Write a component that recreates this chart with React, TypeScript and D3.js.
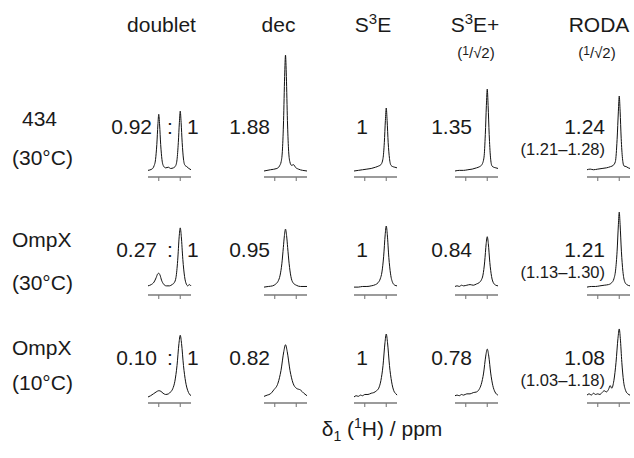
import React from 'react';
import * as d3 from 'd3';

// ---------- data ----------
const columnTitles = ['doublet', 'dec', 'S3E', 'S3E+', 'RODA'];
const rowNames = ['434', 'OmpX', 'OmpX'];
const rowTemps = ['(30°C)', '(30°C)', '(10°C)'];
const doubletRatios = ['0.92', '0.27', '0.10'];
const decValues = ['1.88', '0.95', '0.82'];
const s3eValues = ['1', '1', '1'];
const s3ePlusValues = ['1.35', '0.84', '0.78'];
const rodaValues = ['1.24', '1.21', '1.08'];
const rodaRanges = ['(1.21–1.28)', '(1.13–1.30)', '(1.03–1.18)'];
const tickValues = [0, 1];

type P = [number, number];

// spectra: [position relative to ticks (0 = left tick, 1 = right tick), intensity relative to S3E peak]
const doubletSpectra: P[][] = [
  [[-0.5,0.01],[-0.32,0.03],[-0.22,0.08],[-0.15,0.18],[-0.09,0.42],[-0.04,0.73],[0,0.9],[0.04,0.73],[0.09,0.42],[0.15,0.18],[0.22,0.08],[0.32,0.05],[0.45,0.06],[0.55,0.04],[0.68,0.05],[0.78,0.08],[0.85,0.18],[0.91,0.45],[0.96,0.77],[1,0.95],[1.04,0.77],[1.09,0.45],[1.15,0.19],[1.22,0.09],[1.3,0.07],[1.4,0.04],[1.5,0.02]],
  [[-0.5,0.05],[-0.35,0.07],[-0.22,0.11],[-0.12,0.18],[-0.05,0.24],[0,0.25],[0.06,0.22],[0.13,0.14],[0.22,0.08],[0.35,0.05],[0.5,0.05],[0.62,0.07],[0.72,0.1],[0.8,0.18],[0.88,0.45],[0.95,0.83],[1,0.97],[1.05,0.83],[1.12,0.47],[1.2,0.2],[1.28,0.08],[1.35,0.05],[1.42,0.07],[1.5,0.05]],
  [[-0.5,0.0],[-0.38,0.02],[-0.25,0.05],[-0.12,0.08],[0,0.1],[0.1,0.09],[0.2,0.06],[0.32,0.04],[0.45,0.05],[0.55,0.08],[0.65,0.13],[0.75,0.25],[0.85,0.5],[0.94,0.85],[1,0.98],[1.06,0.85],[1.15,0.5],[1.25,0.24],[1.35,0.1],[1.42,0.05],[1.5,0.02]],
];
const decSpectra: P[][] = [
  [[-0.5,0.0],[-0.2,0.02],[0.1,0.04],[0.22,0.08],[0.3,0.15],[0.36,0.35],[0.41,0.8],[0.46,1.5],[0.5,1.84],[0.54,1.5],[0.59,0.8],[0.64,0.35],[0.7,0.15],[0.78,0.09],[0.88,0.1],[0.96,0.06],[1.1,0.03],[1.3,0.01],[1.5,0.0]],
  [[-0.5,0.03],[-0.3,0.04],[-0.1,0.05],[0.05,0.08],[0.15,0.12],[0.25,0.22],[0.33,0.4],[0.4,0.66],[0.45,0.85],[0.5,0.95],[0.55,0.85],[0.6,0.66],[0.67,0.4],[0.75,0.2],[0.85,0.1],[1.0,0.06],[1.2,0.04],[1.5,0.04]],
  [[-0.5,0.01],[-0.35,0.03],[-0.2,0.05],[-0.05,0.11],[0.15,0.22],[0.29,0.42],[0.42,0.72],[0.5,0.83],[0.58,0.72],[0.71,0.42],[0.85,0.22],[1.0,0.14],[1.2,0.11],[1.35,0.06],[1.5,0.02]],
];
const s3eSpectra: P[][] = [
  [[-0.5,0.0],[-0.3,0.01],[-0.1,0.02],[0.1,0.03],[0.3,0.04],[0.5,0.06],[0.65,0.08],[0.75,0.1],[0.85,0.2],[0.91,0.45],[0.96,0.8],[1,1.0],[1.04,0.8],[1.09,0.45],[1.15,0.2],[1.22,0.09],[1.3,0.07],[1.4,0.06],[1.5,0.05]],
  [[-0.5,0.03],[-0.3,0.03],[-0.1,0.04],[0.1,0.04],[0.3,0.05],[0.5,0.07],[0.62,0.1],[0.72,0.16],[0.8,0.27],[0.88,0.52],[0.95,0.86],[1,1.0],[1.05,0.86],[1.12,0.5],[1.2,0.24],[1.3,0.1],[1.4,0.06],[1.5,0.05]],
  [[-0.5,0.0],[-0.4,0.02],[-0.3,0.01],[-0.2,0.03],[-0.1,0.02],[0,0.04],[0.15,0.04],[0.3,0.06],[0.42,0.07],[0.55,0.1],[0.65,0.14],[0.75,0.26],[0.85,0.5],[0.94,0.86],[1,1.0],[1.06,0.86],[1.15,0.5],[1.25,0.24],[1.35,0.1],[1.45,0.05],[1.5,0.03]],
];
const s3ePlusSpectra: P[][] = [
  [[-0.5,0.0],[-0.3,0.01],[-0.1,0.01],[0.1,0.02],[0.3,0.03],[0.5,0.05],[0.65,0.07],[0.75,0.1],[0.85,0.22],[0.91,0.58],[0.96,1.04],[1,1.3],[1.04,1.04],[1.09,0.58],[1.15,0.22],[1.22,0.08],[1.3,0.06],[1.4,0.05],[1.5,0.04]],
  [[-0.5,0.04],[-0.4,0.05],[-0.3,0.04],[-0.2,0.06],[-0.1,0.05],[0.05,0.06],[0.2,0.07],[0.35,0.06],[0.5,0.08],[0.62,0.1],[0.72,0.14],[0.8,0.22],[0.88,0.43],[0.95,0.72],[1,0.83],[1.05,0.72],[1.12,0.42],[1.2,0.2],[1.3,0.09],[1.4,0.06],[1.5,0.05]],
  [[-0.5,0.02],[-0.4,0.03],[-0.3,0.02],[-0.2,0.04],[-0.1,0.03],[0.05,0.05],[0.2,0.05],[0.35,0.07],[0.5,0.08],[0.62,0.12],[0.72,0.2],[0.83,0.38],[0.93,0.65],[1,0.76],[1.07,0.65],[1.16,0.38],[1.26,0.18],[1.36,0.08],[1.5,0.03]],
];
const rodaSpectra: P[][] = [
  [[-0.5,0.02],[-0.35,0.03],[-0.2,0.02],[0,0.03],[0.2,0.04],[0.4,0.05],[0.6,0.07],[0.72,0.09],[0.82,0.15],[0.9,0.5],[0.96,0.95],[1,1.19],[1.04,0.95],[1.09,0.52],[1.15,0.2],[1.22,0.08],[1.32,0.07],[1.42,0.05],[1.5,0.04]],
  [[-0.5,0.03],[-0.3,0.04],[-0.1,0.04],[0.1,0.05],[0.3,0.06],[0.5,0.07],[0.65,0.1],[0.75,0.16],[0.83,0.3],[0.9,0.6],[0.96,1.02],[1,1.22],[1.04,1.02],[1.1,0.6],[1.17,0.28],[1.25,0.12],[1.35,0.07],[1.5,0.05]],
  [[-0.5,0.03],[-0.4,0.05],[-0.3,0.03],[-0.2,0.06],[-0.1,0.04],[0,0.05],[0.1,0.04],[0.2,0.07],[0.3,0.1],[0.4,0.08],[0.5,0.12],[0.58,0.18],[0.65,0.14],[0.75,0.26],[0.85,0.55],[0.94,0.93],[1,1.08],[1.05,0.93],[1.12,0.55],[1.2,0.25],[1.3,0.1],[1.4,0.05],[1.5,0.03]],
];

// ---------- layout ----------
const W = 634, H = 458;
const colLeft = [148, 264, 354, 455, 587];
const panelW = 43;
const rowAxisY = [177, 295, 403];
const rowValueY = [134, 257, 365];
const rowNameY = [[126, 165], [247, 290], [355, 390]];
const FONT = "'Liberation Sans', Arial, Helvetica, sans-serif";

const allSpectra = [doubletSpectra, decSpectra, s3eSpectra, s3ePlusSpectra, rodaSpectra];

function Panel({ data, left, axisY }: { data: P[]; left: number; axisY: number }) {
  const x = d3.scaleLinear().domain([-0.5, 1.5]).range([left, left + panelW]);
  const y = d3.scaleLinear().domain([0, 1]).range([axisY - 6, axisY - 69]);
  const line = d3.line<P>().x(d => x(d[0])).y(d => y(d[1])).curve(d3.curveMonotoneX);
  return (
    <g>
      <line x1={left} x2={left + panelW} y1={axisY} y2={axisY} stroke="#7a7a7a" strokeWidth={1.3} />
      {tickValues.map(t => (
        <line key={t} x1={x(t)} x2={x(t)} y1={axisY} y2={axisY + 4} stroke="#7a7a7a" strokeWidth={1.1} />
      ))}
      <path d={line(data) || ''} fill="none" stroke="#111" strokeWidth={1} strokeLinejoin="round" />
    </g>
  );
}

export default function App() {
  const headerY = 32;
  return (
    <svg width={W} height={H} viewBox={`0 0 ${W} ${H}`}
      style={{ position: 'absolute', left: 0, top: 0, background: '#fff' }}
      fontFamily={FONT}>
      <rect x={0} y={0} width={W} height={H} fill="#fff" />
      {/* headers */}
      <g fontSize={21} fill="#1a1a1a" textAnchor="middle">
        <text x={161.5} y={headerY}>{columnTitles[0]}</text>
        <text x={278.5} y={headerY}>{columnTitles[1]}</text>
        <text x={373} y={headerY}>S<tspan fontSize={15} dy={-8}>3</tspan><tspan dy={8}>E</tspan></text>
        <text x={475} y={headerY}>S<tspan fontSize={15} dy={-8}>3</tspan><tspan dy={8}>E+</tspan></text>
        <text x={599} y={headerY}>{columnTitles[4]}</text>
      </g>
      <g fontSize={15} fill="#1a1a1a" textAnchor="middle">
        <text x={476} y={58}>(<tspan fontSize={12} dy={-3}>1</tspan><tspan dy={3}>/√2)</tspan></text>
        <text x={597} y={58}>(<tspan fontSize={12} dy={-3}>1</tspan><tspan dy={3}>/√2)</tspan></text>
      </g>
      {/* row labels */}
      <g fontSize={21} fill="#1a1a1a">
        {rowNames.map((n, i) => (
          <g key={i}>
            <text x={i === 0 ? 22 : 12} y={rowNameY[i][0]}>{n}</text>
            <text x={12} y={rowNameY[i][1]}>{rowTemps[i]}</text>
          </g>
        ))}
      </g>
      {/* spectra */}
      {rowAxisY.map((ay, r) => (
        <g key={r}>
          {allSpectra.map((sp, c) => (
            <Panel key={c} data={sp[r]} left={colLeft[c]} axisY={ay} />
          ))}
        </g>
      ))}
      {/* values */}
      <g fontSize={21} fill="#1a1a1a">
        {rowValueY.map((vy, r) => (
          <g key={r}>
            <text x={r === 0 ? 152 : 157} y={vy} textAnchor="end">{doubletRatios[r]}</text>
            <text x={170} y={vy} textAnchor="middle">:</text>
            <text x={187} y={vy}>1</text>
            <text x={270} y={vy} textAnchor="end">{decValues[r]}</text>
            <text x={368} y={vy} textAnchor="end">{s3eValues[r]}</text>
            <text x={472} y={vy} textAnchor="end">{s3ePlusValues[r]}</text>
            <text x={605} y={vy} textAnchor="end">{rodaValues[r]}</text>
            <text x={605} y={vy + 21} textAnchor="end" fontSize={16.5}>{rodaRanges[r]}</text>
          </g>
        ))}
      </g>
      {/* x-axis label */}
      <text x={382} y={436} fontSize={21} fill="#1a1a1a" textAnchor="middle">
        δ<tspan fontSize={14} dy={5}>1</tspan><tspan dy={-5}> (</tspan><tspan fontSize={14} dy={-8}>1</tspan><tspan dy={8}>H) / ppm</tspan>
      </text>
    </svg>
  );
}
